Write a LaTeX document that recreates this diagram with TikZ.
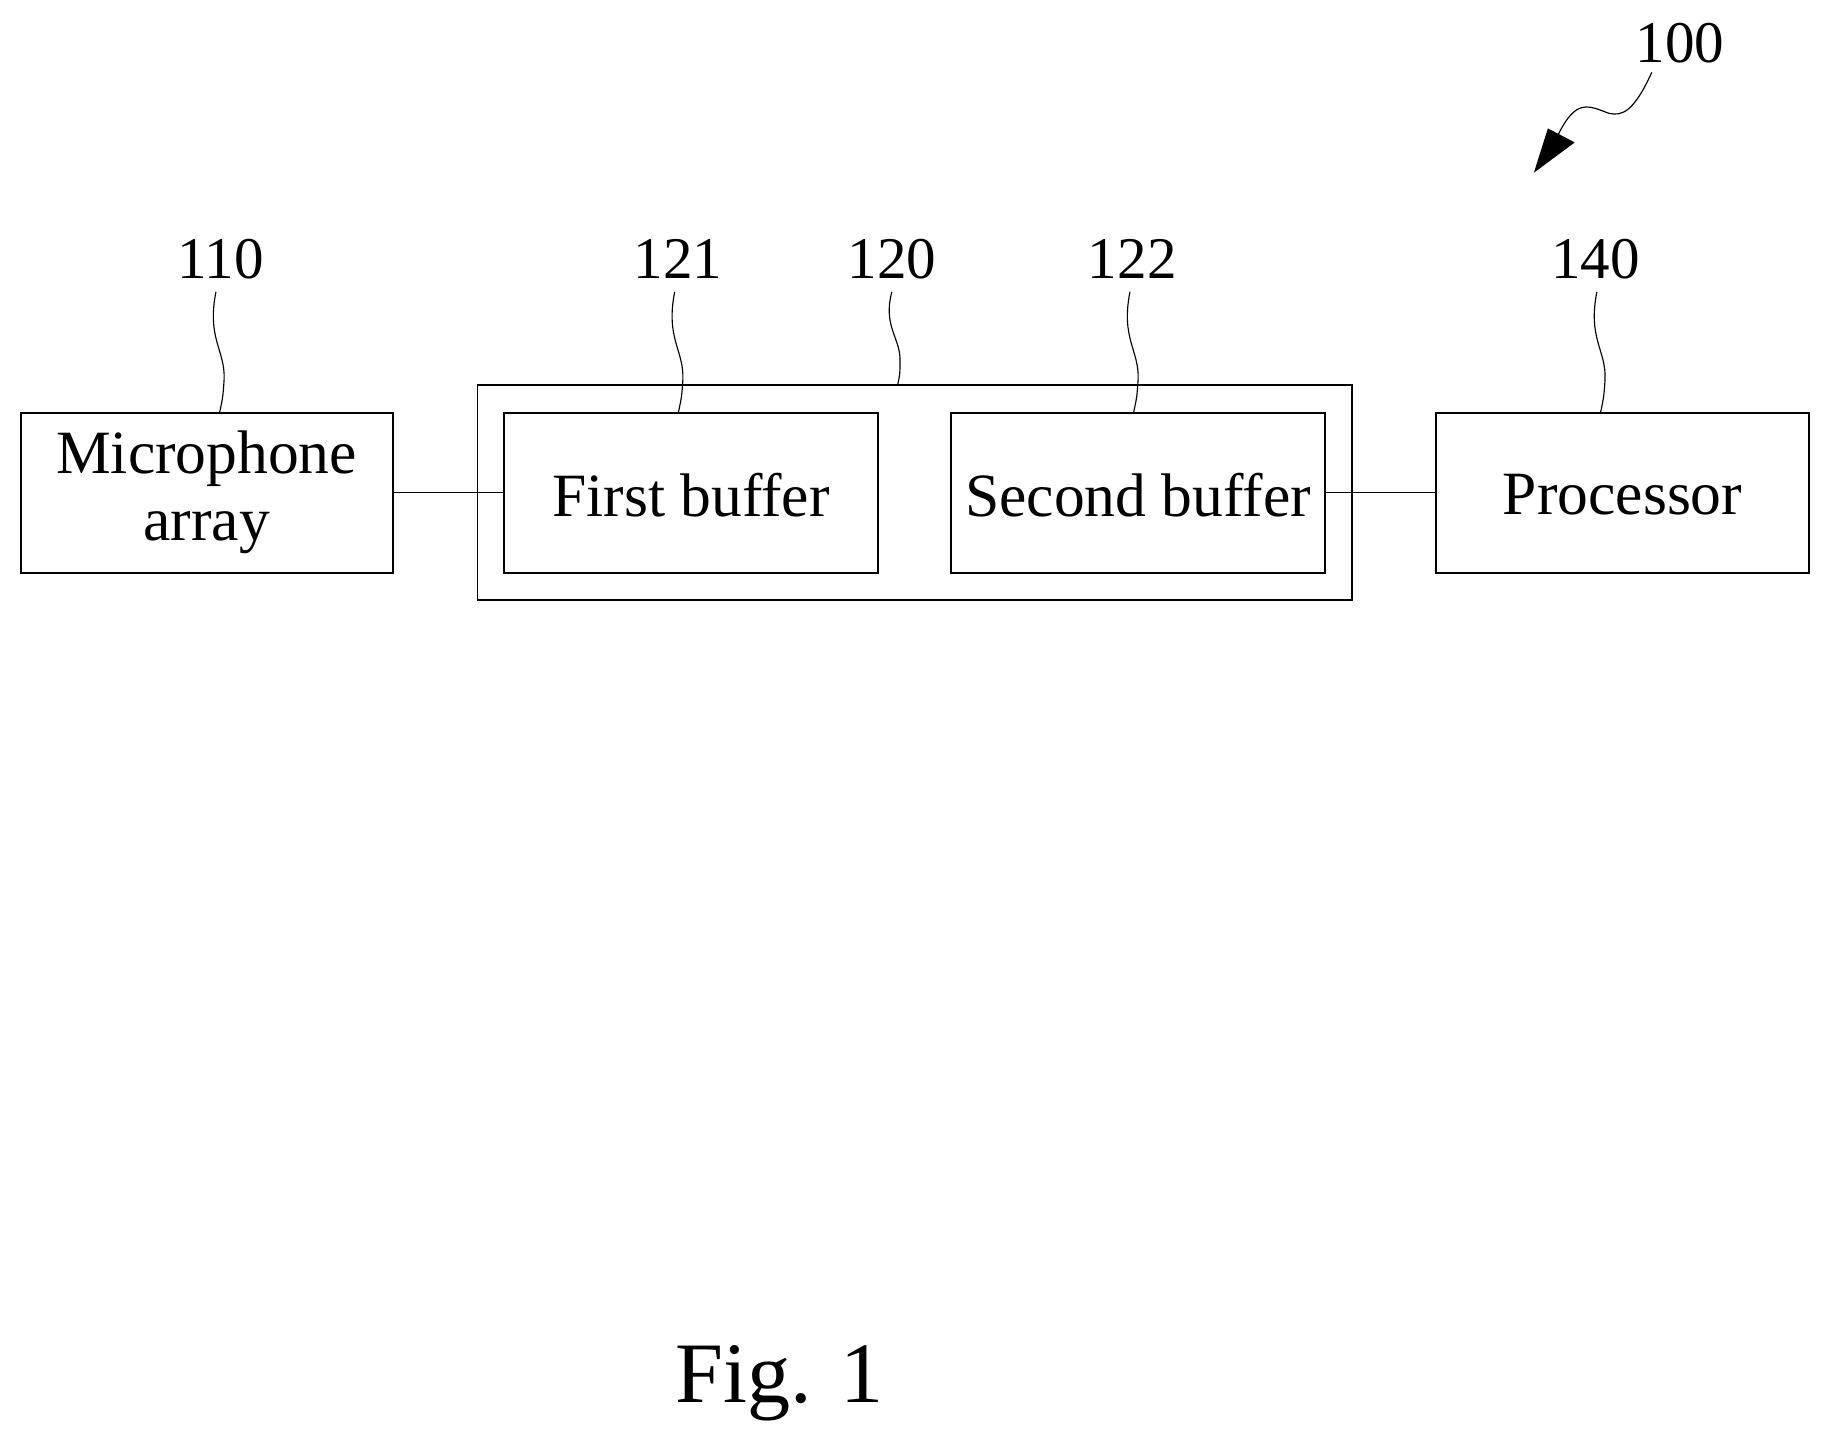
\documentclass[tikz,border=0pt]{standalone}
\usepackage{fontspec}
\setmainfont{Liberation Serif}
\begin{document}
\begin{tikzpicture}[x=0.05cm,y=-0.05cm,
  box/.style={draw,line width=2.2pt,inner sep=0pt},
  lbl/.style={font=\fontsize{75}{90}\selectfont},
  num/.style={font=\fontsize{72}{80}\selectfont},
  lead/.style={line width=1.4pt}]
\useasboundingbox (0,0) rectangle (1560,1236);
\draw[box] (18,354) rectangle (337,491);
\node[lbl,align=center] (mic) at (177,422) {Microphone\\[-8pt]array};
\coordinate (micR) at (337,422);
\draw[box] (409,330) rectangle (1158,514);
\draw[box] (432,354) rectangle (752,491);
\node[lbl] (fb) at (592,424) {First buffer};
\coordinate (fbL) at (432,422);
\draw[box] (815,354) rectangle (1135,491);
\node[lbl] (sb) at (975,424) {Second buffer};
\coordinate (sbR) at (1135,422);
\draw[box] (1230,354) rectangle (1550,491);
\node[lbl] (pr) at (1390,424) {Processor};
\coordinate (prL) at (1230,422);
\draw[line width=1.4pt] (micR) -- (fbL);
\draw[line width=1.4pt] (sbR) -- (prL);
\node[num] (n110) at (189,222) {110};
\node[num] (n121) at (581,222) {121};
\node[num] (n120) at (764,222) {120};
\node[num] (n122) at (970,222) {122};
\node[num] (n140) at (1367,222) {140};
\node[num] (n100) at (1439,37) {100};
\foreach \x/\y in {189/354,582/354,972/354,1372/354}{
  \draw[lead] (\x-4,250) .. controls (\x-12,290) and (\x+4,300) .. (\x+3,325) .. controls (\x+2,340) .. (\x-1,\y);
}
\draw[lead] (764,250) .. controls (756,280) and (772,290) .. (771,310) .. controls (771,320) .. (769,330);
\draw[lead] (1415,62) .. controls (1400,95) and (1390,100) .. (1378,97) .. controls (1360,90) and (1350,85) .. (1335,115);
\fill (1314,148) -- (1349,122) -- (1326,110) -- cycle;
\node[font=\fontsize{105}{120}\selectfont] (fig) at (668,1185) {Fig. 1};
\end{tikzpicture}
\end{document}
